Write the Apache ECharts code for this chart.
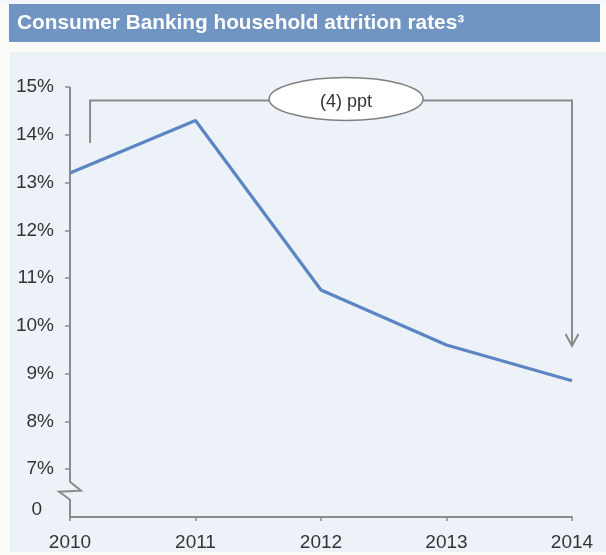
<!DOCTYPE html>
<html>
<head>
<meta charset="utf-8">
<script src="https://cdn.jsdelivr.net/npm/echarts@6/dist/echarts.min.js"></script>
<style>
  html, body { margin: 0; padding: 0; background: #fbfbf7; }
  #chart { width: 606px; height: 555px; }
</style>
</head>
<body>
<div id="chart"></div>
<script>
// Consumer Banking household attrition rate by year (%)
const years = ['2010', '2011', '2012', '2013', '2014'];
const attritionRate = [13.2, 14.3, 10.75, 9.6, 8.85];
// Labelled y ticks; the axis base (6) is a broken axis shown as "0"
const yTickValues = [7, 8, 9, 10, 11, 12, 13, 14, 15];
const axisBase = 6;
const baseLabel = '0';
const changeLabel = '(4) ppt';

const FONT = '"Liberation Sans", Arial, sans-serif';
const AXIS_GRAY = '#8a8a8a';
const TEXT = '#333333';

const chart = echarts.init(document.getElementById('chart'), null, { renderer: 'canvas' });

chart.setOption({
  animation: false,
  backgroundColor: 'transparent',
  textStyle: { fontFamily: FONT },
  grid: { left: 70, right: 34, top: 87, bottom: 38, containLabel: false },
  xAxis: {
    type: 'category',
    data: years,
    boundaryGap: false,
    axisLine: { lineStyle: { color: AXIS_GRAY, width: 2 } },
    axisTick: { show: true, length: 4, lineStyle: { color: AXIS_GRAY, width: 1.5 } },
    axisLabel: { color: TEXT, fontSize: 19, fontFamily: FONT, margin: 16 },
    splitLine: { show: false }
  },
  yAxis: {
    type: 'value',
    min: axisBase,
    max: 15,
    interval: 1,
    axisLine: { show: false },
    axisTick: {
      show: true, length: 5, customValues: yTickValues,
      lineStyle: { color: AXIS_GRAY, width: 1.5 }
    },
    axisLabel: {
      color: TEXT, fontSize: 19, fontFamily: FONT, margin: 16,
      customValues: yTickValues,
      formatter: v => v + '%'
    },
    splitLine: { show: false }
  },
  series: [{
    type: 'line',
    data: attritionRate,
    symbol: 'none',
    lineStyle: { color: '#5b85c3', width: 3.2 },
    z: 3
  }]
});

// Helpers mapping data to pixels through the grid's scales
const px = (i, v) => chart.convertToPixel({ gridIndex: 0 }, [i, v]);
const catX = i => {
  const a = px(Math.floor(i), axisBase)[0];
  const b = px(Math.min(Math.floor(i) + 1, years.length - 1), axisBase)[0];
  return a + (b - a) * (i - Math.floor(i));
};
const valY = v => px(0, v)[1];

const originPt = px(0, axisBase);
const topPt = px(0, 15);
const breakY = valY(6.55);
const x0 = originPt[0];

// Broken y-axis line with zigzag between 7% and the base
const axisShape = {
  type: 'polyline',
  shape: {
    points: [
      [x0, topPt[1]], [x0, breakY - 9], [x0 + 11, breakY], [x0 - 11, breakY + 1],
      [x0, breakY + 9], [x0, originPt[1] + 2]
    ]
  },
  style: { stroke: AXIS_GRAY, lineWidth: 2, fill: null },
  z: 10
};

// Bracket showing the change from 2010 to 2014
const bracketY = valY(14.72);
const legX = catX(0.16);
const legBottom = valY(13.83);
const endX = catX(years.length - 1);
const tipY = valY(9.58);
const ellCx = catX(2.2);
const ellRx = 77, ellRy = 21.5;

chart.setOption({
  graphic: [
    // panel background and title bar
    { type: 'rect', shape: { x: 10, y: 52, width: 596, height: 500 }, style: { fill: '#edf2f8' }, z: -10, silent: true },
    { type: 'rect', shape: { x: 0, y: 0, width: 606, height: 4 }, style: { fill: '#f4f7fb' }, z: -10, silent: true },
    { type: 'rect', shape: { x: 9, y: 4, width: 591, height: 38 }, style: { fill: '#7195c2' }, z: -9, silent: true },
    {
      type: 'text', x: 17, y: 23,
      style: {
        text: 'Consumer Banking household attrition rates³',
        fill: '#ffffff', font: 'bold 20.8px ' + FONT, textVerticalAlign: 'middle'
      },
      z: 5
    },
    axisShape,
    {
      type: 'text', x: 42, y: originPt[1] - 7,
      style: { text: baseLabel, fill: TEXT, font: '19px ' + FONT, textAlign: 'right', textVerticalAlign: 'middle' },
      z: 10
    },
    {
      type: 'polyline',
      shape: { points: [[legX, legBottom], [legX, bracketY], [ellCx - ellRx, bracketY]] },
      style: { stroke: AXIS_GRAY, lineWidth: 2, fill: null }, z: 10
    },
    {
      type: 'polyline',
      shape: { points: [[ellCx + ellRx, bracketY], [endX, bracketY], [endX, tipY]] },
      style: { stroke: AXIS_GRAY, lineWidth: 2, fill: null }, z: 10
    },
    {
      type: 'polyline',
      shape: { points: [[endX - 6.5, tipY - 12], [endX, tipY], [endX + 6.5, tipY - 12]] },
      style: { stroke: AXIS_GRAY, lineWidth: 2, fill: null }, z: 10
    },
    {
      type: 'ellipse',
      shape: { cx: ellCx, cy: bracketY - 1.5, rx: ellRx, ry: ellRy },
      style: { fill: '#ffffff', stroke: '#808080', lineWidth: 1.5 }, z: 11
    },
    {
      type: 'text', x: ellCx, y: bracketY + 2,
      style: { text: changeLabel, fill: TEXT, font: '18px ' + FONT, textAlign: 'center', textVerticalAlign: 'middle' },
      z: 12
    }
  ]
});
</script>
</body>
</html>
